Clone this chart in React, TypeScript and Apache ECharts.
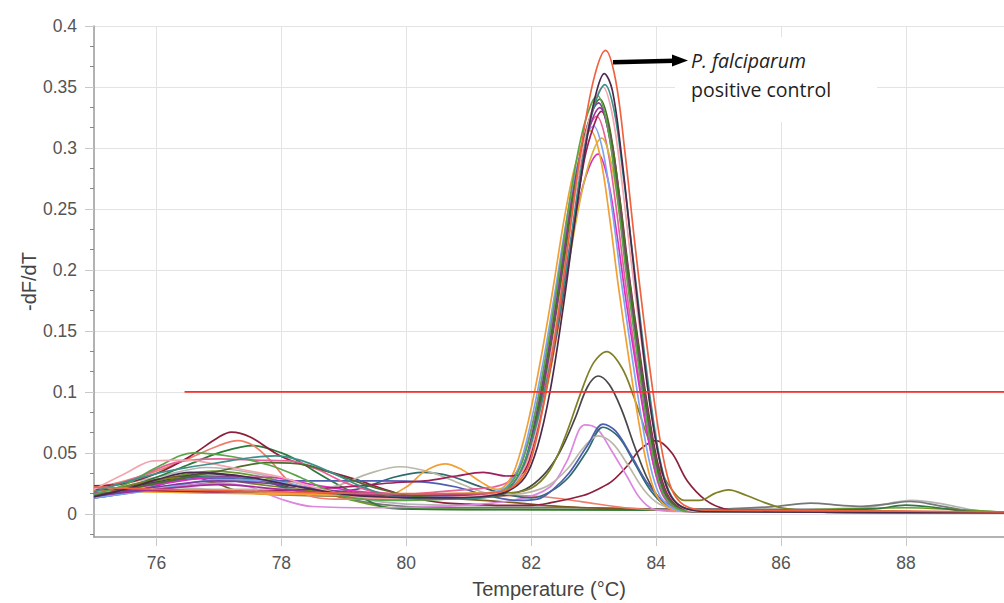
import React, { useEffect, useRef } from 'react';
import * as echarts from 'echarts';

// ---------- axis ticks ----------
const xTicks = [76, 78, 80, 82, 84, 86, 88];
const yTicks = [0, 0.05, 0.1, 0.15, 0.2, 0.25, 0.3, 0.35, 0.4];
const yMinorTicks = [-0.01667, 0.01667, 0.03333, 0.06667, 0.08333, 0.11667, 0.13333, 0.16667, 0.18333,
  0.21667, 0.23333, 0.26667, 0.28333, 0.31667, 0.33333, 0.36667, 0.38333];

// ---------- threshold ----------
const threshold = [[76.45, 0.1], [89.6, 0.1]];

// ---------- melt curves [temperature, -dF/dT] ----------
const control = [[75,0.022],[75.5,0.021],[76,0.02],[77,0.019],[78,0.018],[79,0.017],[80,0.0165],[81,0.0165],[81.5,0.018],[81.8,0.026],[82.0,0.045],[82.2,0.09],[82.4,0.152],[82.6,0.225],[82.8,0.30],[83.0,0.356],[83.19,0.38],[83.35,0.356],[83.5,0.297],[83.65,0.226],[83.8,0.16],[83.95,0.1],[84.1,0.05],[84.25,0.02],[84.45,0.007],[84.8,0.003],[87,0.0025],[89.6,0.0015]];
const darkPurple = [[75,0.014],[75.5,0.02],[76,0.028],[76.55,0.034],[77,0.033],[77.5,0.03],[78,0.025],[78.5,0.02],[79,0.016],[79.5,0.014],[80.5,0.013],[81.2,0.014],[81.6,0.018],[81.9,0.03],[82.1,0.055],[82.3,0.1],[82.5,0.165],[82.7,0.24],[82.9,0.31],[83.05,0.347],[83.17,0.361],[83.3,0.347],[83.45,0.292],[83.6,0.222],[83.75,0.152],[83.9,0.09],[84.05,0.045],[84.2,0.018],[84.4,0.006],[84.8,0.002],[89.6,0.001]];
const teal = [[75,0.018],[75.5,0.026],[76,0.033],[76.5,0.038],[77,0.042],[77.5,0.046],[77.9,0.0476],[78.3,0.044],[78.8,0.034],[79.3,0.022],[79.8,0.014],[80.5,0.012],[81.2,0.013],[81.6,0.019],[81.8,0.032],[82.0,0.058],[82.2,0.098],[82.4,0.148],[82.6,0.213],[82.8,0.283],[83.0,0.333],[83.18,0.352],[83.33,0.33],[83.48,0.275],[83.63,0.21],[83.78,0.145],[83.93,0.086],[84.08,0.04],[84.25,0.014],[84.5,0.004],[85,0.002],[89.6,0.001]];
const lightPink = [[75,0.02],[75.5,0.033],[75.95,0.0435],[76.5,0.044],[77,0.04],[77.5,0.035],[78,0.03],[78.5,0.022],[79,0.016],[79.5,0.013],[80.5,0.013],[81.2,0.015],[81.55,0.018],[81.75,0.026],[81.95,0.045],[82.15,0.084],[82.35,0.14],[82.55,0.207],[82.75,0.277],[82.95,0.327],[83.15,0.35],[83.3,0.327],[83.45,0.273],[83.6,0.207],[83.75,0.147],[83.9,0.091],[84.05,0.046],[84.2,0.018],[84.4,0.006],[84.65,0.002],[89.6,0.001]];
const green = [[75,0.016],[75.5,0.024],[76,0.038],[76.6,0.05],[77.2,0.047],[77.8,0.04],[78.3,0.03],[78.8,0.018],[79.3,0.012],[80,0.011],[81,0.013],[81.46,0.017],[81.66,0.024],[81.86,0.043],[82.06,0.082],[82.26,0.137],[82.46,0.202],[82.66,0.271],[82.86,0.321],[83.06,0.343],[83.21,0.321],[83.36,0.268],[83.51,0.202],[83.66,0.144],[83.81,0.089],[83.96,0.045],[84.11,0.017],[84.31,0.005],[84.56,0.002],[89.6,0.001]];
const darkOlive = [[75,0.015],[76,0.025],[77,0.035],[77.8,0.042],[78.4,0.04],[79,0.03],[79.6,0.02],[80.2,0.014],[81,0.013],[81.5,0.015],[81.7,0.022],[81.9,0.041],[82.1,0.082],[82.3,0.136],[82.5,0.2],[82.7,0.269],[82.9,0.318],[83.1,0.34],[83.25,0.318],[83.4,0.265],[83.55,0.2],[83.7,0.143],[83.85,0.088],[84.0,0.044],[84.15,0.017],[84.35,0.005],[84.6,0.002],[89.6,0.001]];
const purple = [[75,0.014],[76,0.022],[77,0.027],[78,0.024],[79,0.018],[80,0.015],[81,0.015],[81.48,0.016],[81.68,0.023],[81.88,0.04],[82.08,0.081],[82.28,0.135],[82.48,0.199],[82.68,0.266],[82.88,0.315],[83.08,0.337],[83.23,0.315],[83.38,0.263],[83.53,0.199],[83.68,0.142],[83.83,0.088],[83.98,0.044],[84.13,0.017],[84.33,0.005],[84.58,0.002],[89.6,0.001]];
const plum = [[75,0.015],[76,0.02],[77,0.024],[78,0.02],[79,0.016],[80,0.015],[81,0.016],[81.5,0.017],[81.7,0.024],[81.9,0.04],[82.1,0.08],[82.3,0.133],[82.5,0.196],[82.7,0.263],[82.9,0.311],[83.1,0.333],[83.25,0.311],[83.4,0.26],[83.55,0.196],[83.7,0.14],[83.85,0.087],[84.0,0.043],[84.15,0.017],[84.35,0.005],[84.6,0.002],[89.6,0.001]];
const crimson = [[75,0.02],[76,0.019],[77,0.018],[78,0.019],[79,0.022],[79.85,0.0257],[80.3,0.027],[80.8,0.031],[81.23,0.034],[81.6,0.031],[81.85,0.033],[82.05,0.06],[82.25,0.105],[82.45,0.16],[82.65,0.225],[82.85,0.29],[83.0,0.318],[83.12,0.33],[83.27,0.31],[83.42,0.258],[83.57,0.195],[83.72,0.139],[83.87,0.086],[84.02,0.043],[84.17,0.017],[84.37,0.005],[84.62,0.002],[89.6,0.001]];
const lightBlue = [[75,0.013],[76,0.02],[77,0.028],[77.8,0.027],[78.6,0.02],[79.5,0.016],[80.5,0.015],[81,0.016],[81.4,0.018],[81.6,0.022],[81.8,0.038],[82.0,0.076],[82.2,0.127],[82.4,0.188],[82.6,0.251],[82.8,0.297],[83.0,0.318],[83.15,0.297],[83.3,0.248],[83.45,0.188],[83.6,0.134],[83.75,0.083],[83.9,0.041],[84.05,0.016],[84.25,0.005],[84.5,0.002],[89.6,0.001]];
const orange = [[75,0.019],[76,0.018],[77,0.017],[78,0.016],[79,0.015],[79.6,0.0134],[80.0,0.022],[80.3,0.035],[80.62,0.041],[80.9,0.036],[81.2,0.026],[81.45,0.02],[81.6,0.024],[81.75,0.038],[81.95,0.075],[82.15,0.126],[82.35,0.185],[82.55,0.248],[82.75,0.294],[82.95,0.314],[83.1,0.294],[83.25,0.245],[83.4,0.185],[83.55,0.132],[83.7,0.082],[83.85,0.041],[84.0,0.016],[84.2,0.005],[84.45,0.002],[89.6,0.001]];
const gold = [[75,0.019],[76,0.018],[77,0.017],[78,0.017],[79,0.016],[80,0.016],[81,0.017],[81.53,0.018],[81.73,0.024],[81.93,0.037],[82.13,0.074],[82.33,0.123],[82.53,0.182],[82.73,0.243],[82.93,0.288],[83.13,0.308],[83.28,0.288],[83.43,0.24],[83.58,0.182],[83.73,0.129],[83.88,0.08],[84.03,0.04],[84.18,0.016],[84.38,0.005],[84.63,0.002],[89.6,0.001]];
const magenta = [[75,0.017],[76,0.024],[77,0.03],[77.8,0.03],[78.5,0.024],[79.3,0.018],[80,0.016],[81,0.016],[81.47,0.017],[81.67,0.021],[81.87,0.035],[82.07,0.071],[82.27,0.118],[82.47,0.174],[82.67,0.233],[82.87,0.276],[83.07,0.295],[83.22,0.276],[83.37,0.23],[83.52,0.174],[83.67,0.124],[83.82,0.077],[83.97,0.038],[84.12,0.015],[84.32,0.005],[84.57,0.002],[89.6,0.001]];
const pink = [[75,0.018],[75.7,0.03],[76.3,0.042],[77,0.045],[77.6,0.044],[78.2,0.043],[78.6,0.036],[79,0.026],[79.5,0.018],[80,0.016],[80.5,0.018],[81,0.02],[81.4,0.022],[81.65,0.027],[81.85,0.043],[82.05,0.08],[82.25,0.132],[82.45,0.195],[82.65,0.26],[82.85,0.306],[83.05,0.326],[83.2,0.305],[83.35,0.255],[83.5,0.193],[83.65,0.137],[83.8,0.085],[83.95,0.042],[84.1,0.016],[84.3,0.005],[84.55,0.002],[89.6,0.001]];
const blue = [[75,0.013],[75.5,0.017],[76,0.023],[76.4,0.028],[77,0.029],[77.5,0.028],[78,0.027],[78.8,0.027],[79.6,0.027],[80.3,0.026],[80.8,0.022],[81.3,0.015],[81.8,0.011],[82.1,0.012],[82.35,0.02],[82.6,0.033],[82.9,0.056],[83.15,0.0736],[83.35,0.068],[83.6,0.048],[83.85,0.026],[84.1,0.011],[84.4,0.004],[84.8,0.002],[89.6,0.001]];
const lightGray = [[75,0.02],[76,0.022],[77,0.02],[78,0.02],[78.8,0.022],[79.4,0.033],[79.9,0.0386],[80.4,0.034],[80.9,0.024],[81.3,0.017],[81.7,0.016],[82.0,0.018],[82.3,0.024],[82.6,0.038],[82.85,0.055],[83.07,0.064],[83.3,0.058],[83.55,0.04],[83.8,0.02],[84.05,0.008],[84.4,0.003],[85,0.002],[89.6,0.001]];
const darkTeal = [[75,0.014],[76,0.025],[76.8,0.031],[77.6,0.028],[78.5,0.017],[79.2,0.02],[79.8,0.03],[80.27,0.034],[80.7,0.031],[81.2,0.022],[81.6,0.016],[82.0,0.013],[82.3,0.018],[82.6,0.03],[82.9,0.052],[83.15,0.071],[83.4,0.063],[83.65,0.042],[83.9,0.02],[84.15,0.007],[84.5,0.002],[89.6,0.001]];
const violet = [[75,0.014],[76,0.02],[77,0.025],[77.5,0.022],[78,0.012],[78.5,0.006],[79.5,0.005],[80.5,0.006],[81.2,0.008],[81.8,0.012],[82.3,0.022],[82.57,0.043],[82.86,0.073],[83.05,0.07],[83.26,0.054],[83.53,0.031],[83.74,0.013],[83.95,0.004],[84.3,0.002],[89.6,0.001]];
const olive = [[75,0.015],[76,0.028],[76.8,0.03],[77.5,0.025],[78.3,0.02],[79,0.016],[80,0.015],[81,0.016],[81.6,0.017],[82.0,0.021],[82.3,0.036],[82.55,0.064],[82.8,0.1],[83.0,0.124],[83.21,0.133],[83.45,0.12],[83.65,0.095],[83.85,0.065],[84.05,0.038],[84.25,0.02],[84.45,0.011],[84.7,0.011],[84.95,0.017],[85.16,0.0197],[85.45,0.015],[85.75,0.009],[86.0,0.005],[86.5,0.003],[89.6,0.001]];
const darkGray = [[75,0.016],[76,0.026],[76.8,0.033],[77.6,0.028],[78.3,0.02],[79,0.016],[80,0.015],[81,0.015],[81.5,0.015],[81.9,0.02],[82.2,0.032],[82.45,0.05],[82.7,0.078],[82.9,0.104],[83.07,0.113],[83.25,0.106],[83.45,0.085],[83.65,0.056],[83.85,0.03],[84.05,0.013],[84.3,0.004],[84.7,0.002],[89.6,0.001]];
const maroon = [[75,0.023],[75.5,0.025],[76,0.033],[76.5,0.046],[77.0,0.063],[77.2,0.067],[77.5,0.063],[78,0.047],[78.5,0.038],[78.8,0.034],[79.2,0.028],[79.6,0.021],[80.1,0.013],[80.6,0.009],[81,0.008],[81.5,0.007],[82,0.007],[82.3,0.009],[82.83,0.015],[83.1,0.021],[83.3,0.027],[83.55,0.04],[83.75,0.053],[84.0,0.06],[84.25,0.05],[84.5,0.027],[84.8,0.011],[85.1,0.004],[85.5,0.002],[89.6,0.001]];
const salmon = [[75,0.021],[75.5,0.027],[76,0.035],[76.5,0.045],[77,0.056],[77.3,0.06],[77.55,0.056],[77.8,0.045],[78,0.033],[78.25,0.02],[78.6,0.013],[79,0.012],[80,0.012],[81,0.013],[81.6,0.015],[82.2,0.014],[82.8,0.01],[83.5,0.005],[84.2,0.003],[89.6,0.001]];
const darkGreen = [[75,0.017],[75.5,0.022],[76,0.03],[76.5,0.04],[77,0.05],[77.55,0.056],[78,0.05],[78.25,0.044],[78.5,0.036],[78.8,0.027],[79.2,0.016],[79.6,0.006],[80,0.004],[81,0.0035],[82,0.0035],[84,0.003],[86,0.003],[87.5,0.004],[88,0.0072],[88.5,0.005],[89,0.002],[89.6,0.001]];
const brown = [[75,0.016],[75.5,0.022],[76,0.028],[76.5,0.031],[77,0.024],[77.3,0.019],[77.8,0.016],[78.5,0.015],[79.5,0.014],[80.5,0.013],[81.5,0.01],[82.5,0.006],[83.5,0.004],[84.5,0.003],[89.6,0.001]];
const gray = [[75,0.013],[76,0.02],[77,0.026],[77.7,0.027],[78.5,0.02],[79.3,0.01],[80,0.006],[81,0.005],[82,0.005],[83,0.005],[84,0.004],[85,0.004],[85.9,0.006],[86.47,0.0088],[87,0.0068],[87.3,0.0062],[87.7,0.008],[88.07,0.0101],[88.5,0.007],[89,0.0025],[89.6,0.001]];
const oliveGreen = [[75,0.015],[76,0.027],[76.9,0.035],[77.5,0.032],[78.2,0.024],[78.9,0.014],[79.5,0.007],[80,0.004],[82,0.0035],[86,0.003],[88,0.005],[88.6,0.004],[89.6,0.001]];
const silver = [[75,0.02],[76,0.03],[76.8,0.038],[77.6,0.033],[78.5,0.022],[79.3,0.012],[80,0.008],[82,0.006],[84,0.004],[86,0.004],[87.3,0.005],[88.1,0.011],[88.6,0.008],[89.1,0.003],[89.6,0.001]];

const curves: [number[][], string][] = [
  [silver, '#b4b4b4'],
  [gray, '#777777'],
  [oliveGreen, '#6f9a2c'],
  [brown, '#7b5a1c'],
  [darkGreen, '#2d7a3a'],
  [salmon, '#ee7e6a'],
  [maroon, '#8c1f3c'],
  [darkGray, '#474747'],
  [olive, '#7f7f26'],
  [violet, '#dc86e0'],
  [darkTeal, '#2f6a6c'],
  [lightGray, '#b9b8a8'],
  [blue, '#4f5fb0'],
  [pink, '#e6609a'],
  [magenta, '#e02cc0'],
  [gold, '#d6b43a'],
  [orange, '#f0a035'],
  [lightBlue, '#7fa5f0'],
  [crimson, '#9c1f5c'],
  [plum, '#a22d98'],
  [purple, '#7a3d9c'],
  [darkOlive, '#4f6b2c'],
  [green, '#5aa548'],
  [lightPink, '#f2a7ae'],
  [teal, '#3d8f89'],
  [darkPurple, '#4a2a4c'],
  [control, '#f0623f'],
];

const FONT = '"Liberation Sans", Arial, sans-serif';

export default function App() {
  const ref = useRef<HTMLDivElement>(null);
  useEffect(() => {
    const chart = echarts.init(ref.current!, null, { renderer: 'svg' });
    const series: any[] = curves.map(([data, color], i) => ({
      type: 'line',
      name: 'c' + i,
      data,
      smooth: 0.35,
      showSymbol: false,
      symbol: 'none',
      silent: true,
      lineStyle: { width: 1.7, color },
      itemStyle: { color },
      z: 2,
    }));
    series.push({
      type: 'line',
      name: 'threshold',
      data: threshold,
      showSymbol: false,
      symbol: 'none',
      silent: true,
      lineStyle: { width: 1.8, color: '#ff2e2e' },
      z: 5,
    });
    chart.setOption({
      animation: false,
      backgroundColor: '#ffffff',
      grid: { left: 94, top: 26, width: 910, height: 511, containLabel: false, outerBoundsMode: 'none' },
      xAxis: {
        type: 'value',
        min: 75,
        max: 89.57,
        name: 'Temperature (°C)',
        nameLocation: 'middle',
        nameGap: 42,
        nameMoveOverlap: false,
        nameTextStyle: { fontFamily: FONT, fontSize: 20, color: '#444' },
        axisLine: { show: true, onZero: false, lineStyle: { color: '#999', width: 1.5 } },
        axisTick: { show: true, customValues: xTicks, length: 9, lineStyle: { color: '#c8c8c8' } },
        axisLabel: { customValues: xTicks, fontFamily: FONT, fontSize: 17.5, color: '#555', margin: 17 },
        splitLine: { show: true, lineStyle: { color: '#e3e3e3', width: 1 } },
      },
      yAxis: [
        {
          type: 'value',
          position: 'left',
          min: -0.019,
          max: 0.4,
          name: '-dF/dT',
          nameLocation: 'middle',
          nameRotate: 90,
          nameGap: 55,
          nameMoveOverlap: false,
          nameTextStyle: { fontFamily: FONT, fontSize: 20, color: '#444' },
          axisLine: { show: true, onZero: false, lineStyle: { color: '#999', width: 1.5 } },
          axisTick: { show: true, customValues: yTicks, length: 9, lineStyle: { color: '#c8c8c8' } },
          axisLabel: {
            customValues: yTicks,
            fontFamily: FONT,
            fontSize: 17.5,
            color: '#555',
            margin: 17,
            formatter: (v: number) => String(+v.toFixed(3)),
          },
          splitLine: { show: true, lineStyle: { color: '#e3e3e3', width: 1 } },
        },
        {
          type: 'value',
          position: 'left',
          min: -0.019,
          max: 0.4,
          axisLine: { show: false, onZero: false },
          axisTick: { show: true, customValues: yMinorTicks, length: 4, lineStyle: { color: '#888' } },
          axisLabel: { show: false },
          splitLine: { show: false },
        },
      ],
      graphic: [
        { type: 'rect', z: 100, shape: { x: 675, y: 37, width: 202, height: 85 }, style: { fill: '#ffffff' } },
        { type: 'line', z: 101, shape: { x1: 613, y1: 62.3, x2: 675, y2: 60.8 }, style: { stroke: '#000', lineWidth: 4.5 } },
        { type: 'polygon', z: 101, shape: { points: [[672, 54.5], [688, 60.4], [672, 66.5]] }, style: { fill: '#000' } },
        {
          type: 'text', z: 101, x: 691, y: 60,
          style: { text: 'P. falciparum', fontStyle: 'italic', fontSize: 19.5, fontFamily: '"Open Sans", sans-serif', fill: '#1e1e1e', verticalAlign: 'middle' },
        },
        {
          type: 'text', z: 101, x: 691, y: 89,
          style: { text: 'positive control', fontSize: 19.5, fontFamily: '"Open Sans", sans-serif', fill: '#1e1e1e', verticalAlign: 'middle' },
        },
      ],
      series,
    });
    return () => chart.dispose();
  }, []);
  return (
    <div
      ref={ref}
      style={{ position: 'fixed', left: 0, top: 0, width: 1004, height: 603, background: '#fff' }}
    />
  );
}
